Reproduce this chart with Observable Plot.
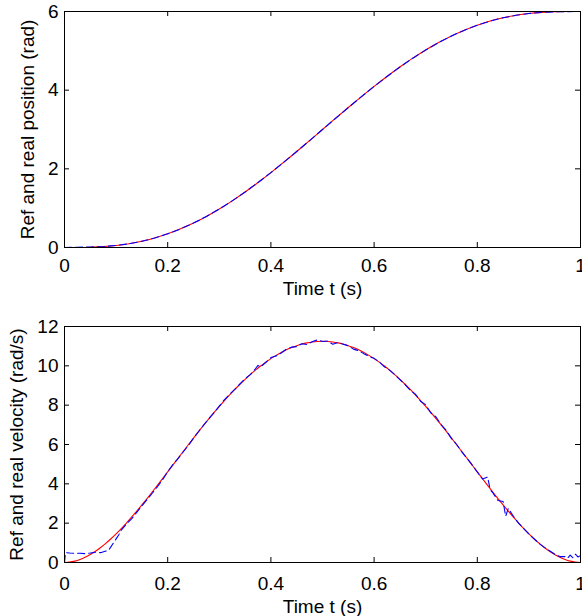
<!DOCTYPE html>
<html>
<head>
<meta charset="utf-8">
<script src="https://cdn.jsdelivr.net/npm/d3@7"></script>
<script src="https://cdn.jsdelivr.net/npm/@observablehq/plot@0.6"></script>
<style>
  html, body { margin: 0; padding: 0; background: white; }
  #chart svg { display: block; }
</style>
</head>
<body>
<div id="chart"></div>
<script>
// ---- tick labels ----
const xTicks = [0, 0.2, 0.4, 0.6, 0.8, 1];
const posTicks = [0, 2, 4, 6];
const velTicks = [0, 2, 4, 6, 8, 10, 12];

// ---- position (rad), t step 0.025 s ----
const tPos = [0, 0.025, 0.05, 0.075, 0.1, 0.125, 0.15, 0.175, 0.2, 0.225, 0.25, 0.275, 0.3, 0.325, 0.35, 0.375, 0.4, 0.425, 0.45, 0.475, 0.5, 0.525, 0.55, 0.575, 0.6, 0.625, 0.65, 0.675, 0.7, 0.725, 0.75, 0.775, 0.8, 0.825, 0.85, 0.875, 0.9, 0.925, 0.95, 0.975, 1];
const posRef = [0, 0.001, 0.007, 0.023, 0.051, 0.096, 0.160, 0.243, 0.348, 0.474, 0.621, 0.790, 0.979, 1.186, 1.411, 1.651, 1.905, 2.169, 2.441, 2.719, 3.000, 3.281, 3.559, 3.831, 4.095, 4.349, 4.589, 4.814, 5.021, 5.210, 5.379, 5.526, 5.652, 5.757, 5.840, 5.904, 5.949, 5.977, 5.993, 5.999, 6.000];
const posReal = [0, 0.008, 0.012, 0.024, 0.052, 0.095, 0.159, 0.242, 0.347, 0.473, 0.620, 0.789, 0.978, 1.185, 1.410, 1.650, 1.904, 2.168, 2.440, 2.718, 2.999, 3.280, 3.558, 3.830, 4.094, 4.348, 4.588, 4.813, 5.020, 5.209, 5.378, 5.525, 5.651, 5.756, 5.839, 5.903, 5.948, 5.976, 5.992, 5.998, 5.999];

// ---- reference velocity (rad/s), t step 0.01 s ----
const tVelRef = [0, 0.01, 0.02, 0.03, 0.04, 0.05, 0.06, 0.07, 0.08, 0.09, 0.1, 0.11, 0.12, 0.13, 0.14, 0.15, 0.16, 0.17, 0.18, 0.19, 0.2, 0.21, 0.22, 0.23, 0.24, 0.25, 0.26, 0.27, 0.28, 0.29, 0.3, 0.31, 0.32, 0.33, 0.34, 0.35, 0.36, 0.37, 0.38, 0.39, 0.4, 0.41, 0.42, 0.43, 0.44, 0.45, 0.46, 0.47, 0.48, 0.49, 0.5, 0.51, 0.52, 0.53, 0.54, 0.55, 0.56, 0.57, 0.58, 0.59, 0.6, 0.61, 0.62, 0.63, 0.64, 0.65, 0.66, 0.67, 0.68, 0.69, 0.7, 0.71, 0.72, 0.73, 0.74, 0.75, 0.76, 0.77, 0.78, 0.79, 0.8, 0.81, 0.82, 0.83, 0.84, 0.85, 0.86, 0.87, 0.88, 0.89, 0.9, 0.91, 0.92, 0.93, 0.94, 0.95, 0.96, 0.97, 0.98, 0.99, 1];
const velRef = [0, 0.018, 0.069, 0.152, 0.265, 0.406, 0.573, 0.763, 0.975, 1.207, 1.458, 1.725, 2.007, 2.303, 2.609, 2.926, 3.251, 3.584, 3.921, 4.263, 4.608, 4.954, 5.300, 5.646, 5.989, 6.328, 6.663, 6.993, 7.316, 7.631, 7.938, 8.236, 8.523, 8.799, 9.064, 9.316, 9.555, 9.780, 9.991, 10.187, 10.368, 10.533, 10.681, 10.813, 10.928, 11.026, 11.107, 11.169, 11.214, 11.241, 11.250, 11.241, 11.214, 11.169, 11.107, 11.026, 10.928, 10.813, 10.681, 10.533, 10.368, 10.187, 9.991, 9.780, 9.555, 9.316, 9.064, 8.799, 8.523, 8.236, 7.938, 7.631, 7.316, 6.993, 6.663, 6.328, 5.989, 5.646, 5.300, 4.954, 4.608, 4.263, 3.921, 3.584, 3.251, 2.926, 2.609, 2.303, 2.007, 1.725, 1.458, 1.207, 0.975, 0.763, 0.573, 0.406, 0.265, 0.152, 0.069, 0.018, 0];

// ---- measured velocity (rad/s) ----
const tVelReal = [0, 0.002, 0.01, 0.02, 0.03, 0.04, 0.05, 0.06, 0.07, 0.08, 0.085, 0.095, 0.1, 0.105, 0.11, 0.12, 0.13, 0.14, 0.15, 0.16, 0.17, 0.18, 0.19, 0.2, 0.21, 0.22, 0.23, 0.24, 0.25, 0.26, 0.27, 0.28, 0.29, 0.3, 0.31, 0.32, 0.33, 0.34, 0.35, 0.36, 0.37, 0.375, 0.38, 0.39, 0.4, 0.41, 0.42, 0.43, 0.44, 0.45, 0.46, 0.47, 0.48, 0.49, 0.5, 0.51, 0.52, 0.53, 0.54, 0.55, 0.56, 0.57, 0.58, 0.59, 0.6, 0.61, 0.62, 0.63, 0.64, 0.65, 0.66, 0.67, 0.68, 0.69, 0.7, 0.71, 0.72, 0.73, 0.74, 0.75, 0.76, 0.77, 0.78, 0.79, 0.8, 0.81, 0.82, 0.825, 0.83, 0.84, 0.85, 0.855, 0.86, 0.87, 0.88, 0.89, 0.9, 0.91, 0.92, 0.93, 0.94, 0.95, 0.96, 0.97, 0.975, 0.98, 0.985, 0.99, 0.995, 1];
const velReal = [0, 0.5, 0.48, 0.47, 0.47, 0.45, 0.48, 0.52, 0.50, 0.58, 0.60, 1.00, 1.20, 1.40, 1.65, 1.95, 2.22, 2.55, 2.88, 3.20, 3.52, 3.85, 4.20, 4.62, 4.98, 5.28, 5.62, 5.95, 6.32, 6.66, 7.00, 7.32, 7.62, 7.95, 8.28, 8.55, 8.80, 9.08, 9.35, 9.55, 9.85, 10.02, 9.95, 10.17, 10.42, 10.50, 10.65, 10.85, 10.95, 10.98, 11.12, 11.08, 11.22, 11.32, 11.24, 11.26, 11.10, 11.18, 11.10, 11.02, 10.85, 10.77, 10.62, 10.48, 10.38, 10.20, 9.95, 9.78, 9.55, 9.30, 9.05, 8.75, 8.56, 8.20, 8.02, 7.60, 7.40, 7.00, 6.72, 6.30, 6.00, 5.62, 5.30, 4.96, 4.60, 4.25, 4.35, 3.70, 3.55, 3.15, 3.10, 2.35, 2.75, 2.35, 2.00, 1.72, 1.45, 1.20, 0.96, 0.77, 0.60, 0.42, 0.30, 0.30, 0.22, 0.38, 0.25, 0.42, 0.28, 0.35];

const font = "'Liberation Sans', Arial, Helvetica, sans-serif";
const W = 582, mL = 64, mR = 2;
const fw = W - mL - mR;

function panel({tx, yRef, tReal, yReal, yDomain, yTicks, yLabel, height, mT, mB, tickPad, yLabelDx, refCurve}) {
  const fh = height - mT - mB;
  const refData = tx.map((t, i) => ({t, v: yRef[i]}));
  const realData = tReal.map((t, i) => ({t, v: yReal[i]}));
  return Plot.plot({
    width: W, height,
    marginLeft: mL, marginRight: mR, marginTop: mT, marginBottom: mB,
    style: {fontFamily: font, fontSize: "19px", background: "white", color: "black", overflow: "visible"},
    x: {domain: [0, 1]},
    y: {domain: yDomain},
    marks: [
      Plot.line(refData, {x: "t", y: "v", stroke: "#ff0000", strokeWidth: 1.1, curve: refCurve}),
      Plot.line(realData, {x: "t", y: "v", stroke: "#0000ff", strokeWidth: 1.1, strokeDasharray: "7,4", curve: "linear"}),
      Plot.frame({stroke: "black", strokeWidth: 1}),
      Plot.tickX(xTicks, {x: d => d, insetTop: fh - 5, stroke: "black"}),
      Plot.tickX(xTicks, {x: d => d, insetBottom: fh - 5, stroke: "black"}),
      Plot.tickY(yTicks, {y: d => d, insetRight: fw - 5, stroke: "black"}),
      Plot.tickY(yTicks, {y: d => d, insetLeft: fw - 5, stroke: "black"}),
      Plot.axisX({ticks: xTicks, tickSize: 0, tickPadding: tickPad, tickFormat: d => String(d), label: null, fontSize: 19}),
      Plot.axisY({ticks: yTicks, tickSize: 0, tickPadding: 6, tickFormat: d => String(d), label: null, fontSize: 19}),
      Plot.text(["Time t (s)"], {text: d => d, frameAnchor: "bottom", lineAnchor: "bottom", dy: tickPad + 36, fontSize: 19}),
      Plot.text([yLabel], {text: d => d, frameAnchor: "left", textAnchor: "middle", rotate: -90, lineAnchor: "middle", dx: yLabelDx, fontSize: 19})
    ]
  });
}

const topPanel = panel({
  tx: tPos, yRef: posRef, tReal: tPos, yReal: posReal,
  yDomain: [0, 6], yTicks: posTicks, yLabel: "Ref and real position (rad)",
  height: 300, mT: 11, mB: 53, tickPad: 11, yLabelDx: -36.5, refCurve: "catmull-rom"
});
const bottomPanel = panel({
  tx: tVelRef, yRef: velRef, tReal: tVelReal, yReal: velReal,
  yDomain: [0, 12], yTicks: velTicks, yLabel: "Ref and real velocity (rad/s)",
  height: 316, mT: 26, mB: 54, tickPad: 14, yLabelDx: -47.5, refCurve: "catmull-rom"
});
const el = document.getElementById("chart");
el.appendChild(topPanel);
el.appendChild(bottomPanel);
</script>
</body>
</html>
